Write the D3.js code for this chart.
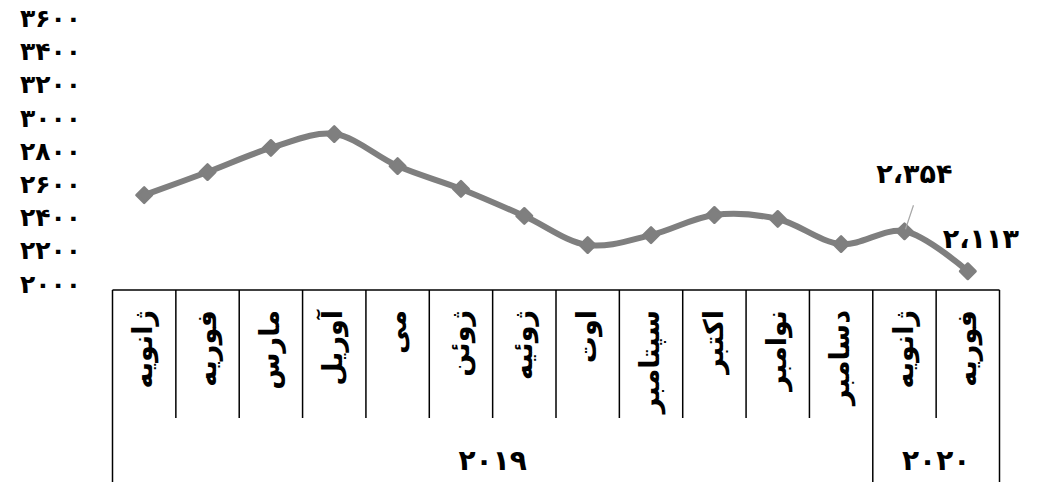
<!DOCTYPE html>
<html>
<head>
<meta charset="utf-8">
<script src="https://cdn.jsdelivr.net/npm/d3@7"></script>
<style>
  body { margin: 0; background: #fff; }
  text { font-family: "DejaVu Sans", sans-serif; font-weight: bold; }
</style>
</head>
<body>
<svg width="1045" height="482"></svg>
<script>
const months = ['ژانویه', 'فوریه', 'مارس', 'آوریل', 'می', 'ژوئن', 'ژوئیه', 'اوت', 'سپتامبر', 'اکتبر', 'نوامبر', 'دسامبر', 'ژانویه', 'فوریه'];
const values = [2572, 2711, 2856, 2940, 2747, 2609, 2446, 2271, 2331, 2452, 2428, 2277, 2354, 2113];
const years = [{ name: '۲۰۱۹', from: 0, to: 11 }, { name: '۲۰۲۰', from: 12, to: 13 }];
const yTicks = [2000, 2200, 2400, 2600, 2800, 3000, 3200, 3400, 3600];
const labelled = [12, 13]; // points that carry a value label

const svg = d3.select('svg');
const fa = s => String(s).replace(/\d/g, d => '۰۱۲۳۴۵۶۷۸۹'[d]);

const x = d3.scaleBand().domain(d3.range(months.length)).range([112.5, 999.5]);
const y = d3.scaleLinear().domain([2000, 3600]).range([290, 24.5]);

// y axis: labels only
const yAxis = svg.append('g')
    .attr('transform', 'translate(84,0)')
    .call(d3.axisLeft(y).tickValues(yTicks).tickFormat(fa).tickSize(0).tickPadding(3));
yAxis.select('.domain').remove();
yAxis.selectAll('text')
    .attr('font-family', '"DejaVu Sans", sans-serif')
    .attr('font-weight', 'bold')
    .attr('font-size', 25)
    .attr('fill', '#000')
    .attr('dy', '0.08em');

// category frame
const axisG = svg.append('g').attr('stroke', '#000').attr('stroke-width', 1.5);
axisG.append('line')
    .attr('x1', x.range()[0]).attr('x2', x.range()[1])
    .attr('y1', 290).attr('y2', 290);
d3.range(months.length + 1).forEach(i => {
    const xx = x.range()[0] + i * x.step();
    const full = i === 0 || years.some(yr => yr.to + 1 === i);
    axisG.append('line')
        .attr('x1', xx).attr('x2', xx)
        .attr('y1', 290).attr('y2', full ? 482 : 418);
});

// month labels (rotated)
svg.append('g').selectAll('text')
    .data(months)
    .join('text')
    .attr('transform', (d, i) => `translate(${x(i) + x.bandwidth() / 2},310) rotate(-90)`)
    .attr('text-anchor', 'end')
    .attr('dy', '0.3em')
    .attr('font-size', 27)
    .text(d => d);

// year labels
svg.append('g').selectAll('text')
    .data(years)
    .join('text')
    .attr('x', d => (x(d.from) + x(d.to) + x.bandwidth()) / 2)
    .attr('y', 470)
    .attr('text-anchor', 'middle')
    .attr('font-size', 28)
    .text(d => d.name);

// line
const line = d3.line()
    .x((d, i) => x(i) + x.bandwidth() / 2)
    .y(d => y(d))
    .curve(d3.curveCatmullRom.alpha(0.5));

svg.append('path')
    .datum(values)
    .attr('d', line)
    .attr('fill', 'none')
    .attr('stroke', '#7f7f7f')
    .attr('stroke-width', 6);

// diamond markers
svg.append('g').selectAll('path')
    .data(values)
    .join('path')
    .attr('d', d3.symbol(d3.symbolSquare, 120))
    .attr('transform', (d, i) => `translate(${x(i) + x.bandwidth() / 2},${y(d)}) rotate(45)`)
    .attr('fill', '#7f7f7f')
    .attr('stroke', '#7f7f7f')
    .attr('stroke-width', 2.5)
    .attr('stroke-linejoin', 'round');

// value labels
const fmt = v => fa(d3.format(',')(v)).replace(/,/g, '،');
const cx = i => x(i) + x.bandwidth() / 2;
// leader line for the first label
svg.append('line')
    .attr('x1', cx(labelled[0]) + 9).attr('y1', y(values[labelled[0]]) - 26)
    .attr('x2', cx(labelled[0]) + 1).attr('y2', y(values[labelled[0]]) - 2)
    .attr('stroke', '#a6a6a6')
    .attr('stroke-width', 1.2);
svg.append('text')
    .attr('x', cx(labelled[0]) + 10)
    .attr('y', y(values[labelled[0]]) - 48)
    .attr('text-anchor', 'middle')
    .attr('font-size', 27)
    .text(fmt(values[labelled[0]]));
svg.append('text')
    .attr('x', cx(labelled[1]) + 13)
    .attr('y', y(values[labelled[1]]) - 23)
    .attr('text-anchor', 'middle')
    .attr('font-size', 27)
    .text(fmt(values[labelled[1]]));
</script>
</body>
</html>
